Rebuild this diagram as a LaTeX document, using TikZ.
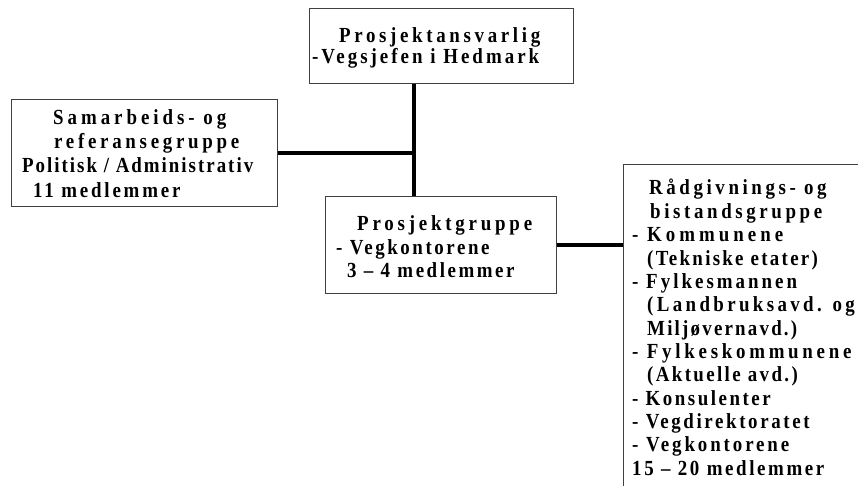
\documentclass[tikz,border=0pt]{standalone}
\usepackage{fontspec}
\newfontfamily\lblfont[FakeStretch=0.88]{Liberation Serif Bold}
\ExplSyntaxOn
\fp_new:N \l_fit_fp
\box_new:N \l_fit_box
\NewDocumentCommand\fitline{mm}{
  \lblfont
  \hbox_set:Nn \l_fit_box {#2}
  \fp_set:Nn \l_fit_fp { ( #1 - \dim_to_fp:n { \box_wd:N \l_fit_box } ) / ( \str_count:n {#2} - 1 ) / 21.5 * 100 }
  \use:x { \exp_not:N \addfontfeature { LetterSpace = \fp_eval:n { round(\l_fit_fp, 2) } } }
  #2
}
\ExplSyntaxOff
\begin{document}
\begin{tikzpicture}[x=1pt,y={(0pt,-1pt)},
  boxnode/.style={draw=black!75,line width=0.9pt,fill=white,rectangle,inner sep=0pt,anchor=north west},
  link/.style={draw=black,line width=3.2pt},
  lbl/.style={anchor=base west,inner sep=0pt,font=\fontsize{21.5}{24}\selectfont}]
\useasboundingbox (0,0) rectangle (858,486);
\clip (0,0) rectangle (858,486);
% boxes
\node[boxnode,minimum width=264pt,minimum height=75pt] (top) at (309,8) {};
\node[boxnode,minimum width=266pt,minimum height=107pt] (left) at (11,99) {};
\node[boxnode,minimum width=231pt,minimum height=97pt] (mid) at (325,196) {};
\node[boxnode,minimum width=260pt,minimum height=340pt] (right) at (623,164) {};
% connectors
\coordinate (vx) at (414,0);
\draw[link] (top.south -| vx) -- (mid.north -| vx);
\draw[link] (left.east) -- (left.east -| vx);
\draw[link] (mid.east) -- (mid.east -| right.west);
% top box text
\node[lbl] (t1) at (339,43) {\fitline{201}{Prosjektansvarlig}};
\node[lbl] (t2) at (312,64) {\fitline{233}{-Vegsjefen i Hedmark}};
% left box text
\node[lbl] (l1) at (53,125) {\fitline{177}{Samarbeids- og}};
\node[lbl] (l2) at (54,149) {\fitline{185}{referansegruppe}};
\node[lbl] (l3) at (22,173) {\fitline{235}{Politisk / Administrativ}};
\node[lbl] (l4) at (33,197) {\fitline{150}{11 medlemmer}};
% middle box text
\node[lbl] (m1) at (357,230) {\fitline{175}{Prosjektgruppe}};
\node[lbl] (m2) at (336,254) {\fitline{156}{- Vegkontorene}};
\node[lbl] (m3) at (347,277) {\fitline{175}{3 – 4 medlemmer}};
% right box text
\node[lbl] (r1) at (649,195.0) {\fitline{181}{Rådgivnings- og}};
\node[lbl] (r2) at (650,218.3) {\fitline{172}{bistandsgruppe}};
\node[lbl] (r3) at (632,241.7) {\fitline{155}{- Kommunene}};
\node[lbl] (r4) at (647,265.0) {\fitline{173}{(Tekniske etater)}};
\node[lbl] (r5) at (632,288.3) {\fitline{168}{- Fylkesmannen}};
\node[lbl] (r6) at (647,311.7) {\fitline{210}{(Landbruksavd. og}};
\node[lbl] (r7) at (647,335.0) {\fitline{150}{Miljøvernavd.)}};
\node[lbl] (r8) at (632,358.3) {\fitline{223}{- Fylkeskommunene}};
\node[lbl] (r9) at (647,381.7) {\fitline{153}{(Aktuelle avd.)}};
\node[lbl] (r10) at (632,405.0) {\fitline{141}{- Konsulenter}};
\node[lbl] (r11) at (632,428.3) {\fitline{180}{- Vegdirektoratet}};
\node[lbl] (r12) at (632,451.7) {\fitline{160}{- Vegkontorene}};
\node[lbl] (r13) at (632,475.0) {\fitline{200}{15 – 20 medlemmer}};
\end{tikzpicture}
\end{document}
